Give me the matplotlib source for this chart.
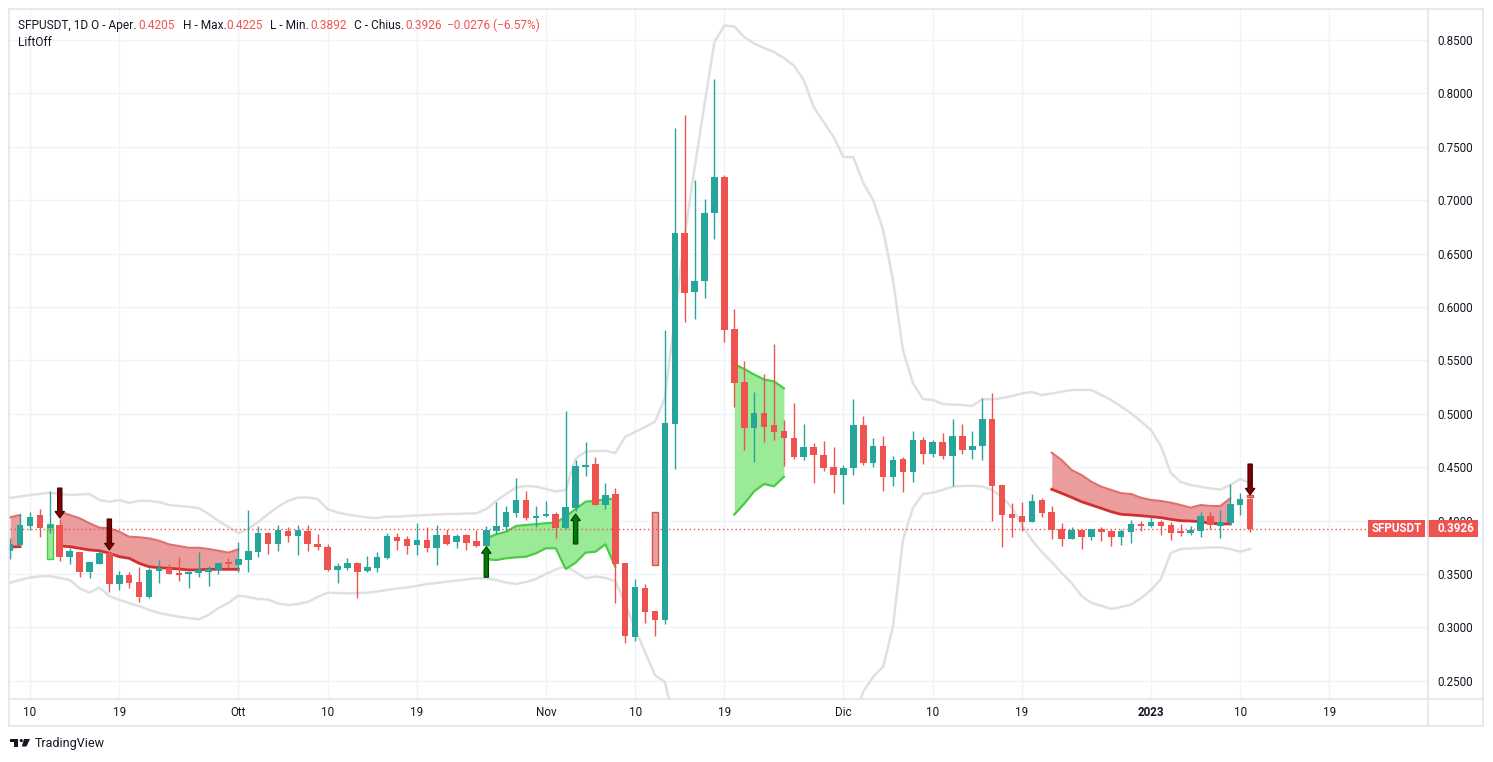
import matplotlib
matplotlib.use('Agg')
import matplotlib.pyplot as plt
import matplotlib.dates as mdates
from matplotlib.lines import Line2D
from matplotlib.patches import Rectangle, Polygon, Circle
from matplotlib.transforms import Affine2D, IdentityTransform, blended_transform_factory
import numpy as np
import pandas as pd

W, H = 1493, 762
plt.rcParams['font.family'] = ['Roboto', 'DejaVu Sans']

# daily candles SFPUSDT, 2022-09-08 .. 2023-01-11
dates = pd.date_range('2022-09-08', periods=126, freq='D')

opens = [0.3716, 0.3772, 0.3953, 0.4053, 0.3934, 0.3959, 0.3662, 0.3706, 0.3522, 0.3597,
         0.3697, 0.3410, 0.3491, 0.3426, 0.3288, 0.3532, 0.3560, 0.3513, 0.3497, 0.3513,
         0.3522, 0.3541, 0.3601, 0.3588, 0.3635, 0.3706, 0.3884, 0.3781, 0.3903, 0.3856,
         0.3903, 0.3781, 0.3756, 0.3541, 0.3560, 0.3607, 0.3532, 0.3560, 0.3653, 0.3850,
         0.3828, 0.3775, 0.3818, 0.3747, 0.3865, 0.3803, 0.3865, 0.3809, 0.3765, 0.3903,
         0.3940, 0.4074, 0.4193, 0.4028, 0.4047, 0.4062, 0.3931, 0.4118, 0.4506, 0.4530,
         0.4150, 0.4250, 0.3607, 0.2914, 0.3366, 0.3150, 0.3069, 0.4908, 0.6693, 0.6145,
         0.6242, 0.6883, 0.7216, 0.5794, 0.5296, 0.4869, 0.5006, 0.4898, 0.4841, 0.4773,
         0.4597, 0.4690, 0.4615, 0.4503, 0.4431, 0.4497, 0.4895, 0.4542, 0.4699, 0.4412,
         0.4577, 0.4459, 0.4755, 0.4627, 0.4736, 0.4605, 0.4792, 0.4665, 0.4699, 0.4952,
         0.4337, 0.4062, 0.4043, 0.3990, 0.4193, 0.4081, 0.3922, 0.3831, 0.3915, 0.3850,
         0.3925, 0.3903, 0.3850, 0.3897, 0.3968, 0.3953, 0.3987, 0.3959, 0.3893, 0.3887,
         0.3906, 0.4043, 0.3953, 0.3981, 0.4150, 0.4205]
highs = [0.3837, 0.4062, 0.4081, 0.4109, 0.4277, 0.4015, 0.3747, 0.3706, 0.3610, 0.3719,
         0.3719, 0.3529, 0.3522, 0.3569, 0.3554, 0.3631, 0.3594, 0.3662, 0.3522, 0.3706,
         0.3578, 0.3601, 0.3648, 0.3800, 0.4100, 0.3950, 0.3890, 0.3959, 0.3943, 0.3959,
         0.3959, 0.3872, 0.3781, 0.3601, 0.3648, 0.3616, 0.3669, 0.3706, 0.3881, 0.3887,
         0.3856, 0.3978, 0.3940, 0.3959, 0.3922, 0.3875, 0.3875, 0.3912, 0.3950, 0.4174,
         0.4137, 0.4399, 0.4277, 0.4137, 0.4184, 0.4084, 0.5027, 0.4568, 0.4737, 0.4593,
         0.4350, 0.4306, 0.3607, 0.3450, 0.3403, 0.3150, 0.5783, 0.7675, 0.7797, 0.7187,
         0.7012, 0.8134, 0.7238, 0.5980, 0.5493, 0.5202, 0.5371, 0.5657, 0.4945, 0.5102,
         0.4905, 0.4727, 0.4746, 0.4690, 0.4519, 0.5139, 0.4980, 0.4774, 0.4793, 0.4605,
         0.4595, 0.4840, 0.4784, 0.4755, 0.4821, 0.4952, 0.4905, 0.4840, 0.5148, 0.5195,
         0.4337, 0.4168, 0.4177, 0.4249, 0.4212, 0.4137, 0.3981, 0.3944, 0.3915, 0.3925,
         0.3944, 0.3925, 0.3925, 0.4009, 0.4000, 0.4037, 0.4009, 0.3990, 0.3968, 0.3953,
         0.4081, 0.4081, 0.4100, 0.4343, 0.4259, 0.4225]
lows = [0.3640, 0.3760, 0.3912, 0.3850, 0.3884, 0.3625, 0.3594, 0.3475, 0.3466, 0.3597,
        0.3332, 0.3354, 0.3369, 0.3241, 0.3279, 0.3419, 0.3501, 0.3435, 0.3372, 0.3475,
        0.3391, 0.3498, 0.3554, 0.3519, 0.3519, 0.3662, 0.3687, 0.3719, 0.3802, 0.3678,
        0.3719, 0.3722, 0.3532, 0.3419, 0.3538, 0.3279, 0.3516, 0.3516, 0.3638, 0.3722,
        0.3690, 0.3681, 0.3709, 0.3585, 0.3775, 0.3747, 0.3728, 0.3756, 0.3756, 0.3875,
        0.3903, 0.4037, 0.4010, 0.3944, 0.4031, 0.3834, 0.3920, 0.4090, 0.4418, 0.4150,
        0.4109, 0.3226, 0.2853, 0.2868, 0.3038, 0.2919, 0.3035, 0.4486, 0.5855, 0.5883,
        0.6087, 0.6640, 0.5675, 0.5067, 0.4665, 0.4551, 0.4740, 0.4759, 0.4514, 0.4575,
        0.4572, 0.4356, 0.4469, 0.4262, 0.4159, 0.4431, 0.4523, 0.4506, 0.4281, 0.4328,
        0.4272, 0.4366, 0.4530, 0.4599, 0.4580, 0.4328, 0.4627, 0.4581, 0.4567, 0.3999,
        0.3756, 0.3850, 0.3903, 0.3990, 0.4037, 0.3831, 0.3765, 0.3831, 0.3737, 0.3822,
        0.3812, 0.3765, 0.3775, 0.3793, 0.3906, 0.3944, 0.3869, 0.3822, 0.3853, 0.3869,
        0.3850, 0.3925, 0.3834, 0.3962, 0.4056, 0.3892]
closes = [0.3781, 0.3959, 0.4034, 0.3934, 0.3959, 0.3662, 0.3716, 0.3522, 0.3610, 0.3697,
          0.3410, 0.3491, 0.3419, 0.3288, 0.3538, 0.3560, 0.3501, 0.3494, 0.3522, 0.3541,
          0.3547, 0.3601, 0.3595, 0.3641, 0.3716, 0.3884, 0.3781, 0.3912, 0.3856, 0.3912,
          0.3781, 0.3756, 0.3538, 0.3575, 0.3601, 0.3522, 0.3569, 0.3660, 0.3856, 0.3812,
          0.3765, 0.3818, 0.3747, 0.3865, 0.3784, 0.3856, 0.3793, 0.3765, 0.3912, 0.3950,
          0.4081, 0.4193, 0.4028, 0.4037, 0.4062, 0.3931, 0.4128, 0.4512, 0.4518, 0.4150,
          0.4240, 0.3597, 0.2924, 0.3375, 0.3147, 0.3069, 0.4912, 0.6693, 0.6134, 0.6242,
          0.6879, 0.7216, 0.5787, 0.5292, 0.4869, 0.5006, 0.4880, 0.4833, 0.4773, 0.4600,
          0.4690, 0.4615, 0.4497, 0.4431, 0.4497, 0.4895, 0.4542, 0.4699, 0.4412, 0.4567,
          0.4459, 0.4755, 0.4627, 0.4736, 0.4605, 0.4792, 0.4665, 0.4699, 0.4952, 0.4328,
          0.4053, 0.4028, 0.3990, 0.4184, 0.4075, 0.3915, 0.3831, 0.3909, 0.3850, 0.3925,
          0.3897, 0.3850, 0.3903, 0.3968, 0.3953, 0.3987, 0.3953, 0.3887, 0.3887, 0.3912,
          0.4043, 0.3962, 0.3990, 0.4156, 0.4203, 0.3926]

# bollinger style bands (lower one leaves the visible range mid Nov)
upper_band = [0.4212, 0.4226, 0.4240, 0.4249, 0.4261, 0.4249, 0.4240, 0.4245, 0.4249, 0.4193,
              0.4177, 0.4193, 0.4165, 0.4186, 0.4184, 0.4174, 0.4146, 0.4137, 0.4130, 0.4118,
              0.4062, 0.3996, 0.3940, 0.3884, 0.3921, 0.3987, 0.4062, 0.4130, 0.4184, 0.4216,
              0.4216, 0.4202, 0.4109, 0.4076, 0.4057, 0.4043, 0.4029, 0.4024, 0.4037, 0.4037,
              0.4043, 0.4048, 0.4052, 0.4057, 0.4062, 0.4062, 0.4067, 0.4068, 0.4109, 0.4184,
              0.4249, 0.4310, 0.4324, 0.4318, 0.4296, 0.4273, 0.4287, 0.4580, 0.4645, 0.4652,
              0.4654, 0.4633, 0.4783, 0.4830, 0.4876, 0.4926, 0.5148, 0.5900, 0.6674, 0.7301,
              0.7901, 0.8481, 0.8636, 0.8626, 0.8528, 0.8467, 0.8425, 0.8388, 0.8331, 0.8261,
              0.8125, 0.7873, 0.7732, 0.7595, 0.7404, 0.7402, 0.7161, 0.7002, 0.6721, 0.6253,
              0.5597, 0.5288, 0.5139, 0.5129, 0.5092, 0.5087, 0.5082, 0.5073, 0.5139, 0.5134,
              0.5148, 0.5167, 0.5190, 0.5204, 0.5176, 0.5190, 0.5207, 0.5223, 0.5223, 0.5223,
              0.5176, 0.5129, 0.5068, 0.5005, 0.4928, 0.4848, 0.4699, 0.4446, 0.4361, 0.4333,
              0.4318, 0.4301, 0.4291, 0.4333, 0.4390, 0.4349]
lower_band = [0.3419, 0.3444, 0.3467, 0.3477, 0.3481, 0.3463, 0.3444, 0.3366, 0.3325, 0.3372,
              0.3294, 0.3257, 0.3228, 0.3200, 0.3163, 0.3135, 0.3116, 0.3100, 0.3088, 0.3076,
              0.3116, 0.3182, 0.3228, 0.3299, 0.3285, 0.3266, 0.3262, 0.3224, 0.3210, 0.3219,
              0.3238, 0.3285, 0.3325, 0.3322, 0.3319, 0.3322, 0.3325, 0.3336, 0.3350, 0.3364,
              0.3374, 0.3388, 0.3406, 0.3416, 0.3428, 0.3439, 0.3449, 0.3460, 0.3460, 0.3444,
              0.3420, 0.3406, 0.3425, 0.3453, 0.3500, 0.3542, 0.3575, 0.3519, 0.3460, 0.3477,
              0.3463, 0.3434, 0.3228, 0.2985, 0.2770, 0.2554, 0.2489, 0.2100, 0.1700, 0.1300,
              0.1000, 0.0700, 0.0500, 0.0500, 0.0600, 0.0700, 0.0800, 0.0900, 0.1000, 0.1100,
              0.1200, 0.1400, 0.1600, 0.1800, 0.2000, 0.2150, 0.2398, 0.2538, 0.2632, 0.3007,
              0.3818, 0.4118, 0.4249, 0.4261, 0.4287, 0.4318, 0.4324, 0.4327, 0.4319, 0.4287,
              0.4221, 0.4118, 0.3959, 0.3818, 0.3706, 0.3612, 0.3509, 0.3416, 0.3294, 0.3228,
              0.3203, 0.3172, 0.3191, 0.3214, 0.3275, 0.3350, 0.3453, 0.3697, 0.3734, 0.3739,
              0.3743, 0.3748, 0.3750, 0.3734, 0.3709, 0.3734]

# LiftOff zones: (first day, upper edge, lower edge)
red_zones = [
    ('2022-09-08', [0.4031, 0.4053], [0.3753, 0.3756]),
    ('2022-09-13', [0.4083, 0.4053, 0.4022, 0.3975, 0.3934, 0.3928, 0.3896, 0.3849, 0.3844, 0.3834,
                    0.3812, 0.3778, 0.3762, 0.3746, 0.3746, 0.3734, 0.3718, 0.3700, 0.3731],
                   [0.3762, 0.3756, 0.3741, 0.3725, 0.3718, 0.3694, 0.3662, 0.3647, 0.3600, 0.3568,
                    0.3559, 0.3553, 0.3547, 0.3538, 0.3538, 0.3544, 0.3544, 0.3544, 0.3544]),
    ('2022-12-22', [0.4636, 0.4567, 0.4474, 0.4427, 0.4364, 0.4317, 0.4287, 0.4256, 0.4249, 0.4214,
                    0.4193, 0.4184, 0.4168, 0.4146, 0.4121, 0.4146, 0.4137, 0.4137, 0.4209],
                   [0.4293, 0.4256, 0.4218, 0.4177, 0.4146, 0.4115, 0.4083, 0.4059, 0.4053, 0.4046,
                    0.4037, 0.4028, 0.4012, 0.3999, 0.3996, 0.3990, 0.3975, 0.3969, 0.3969]),
]
green_zones = [
    ('2022-10-26', [0.3834, 0.3872, 0.3896, 0.3950, 0.3959, 0.3966, 0.3975, 0.3981, 0.4037, 0.4109,
                    0.4177, 0.4186, 0.4199, 0.4205],
                   [0.3638, 0.3631, 0.3647, 0.3656, 0.3662, 0.3694, 0.3741, 0.3741, 0.3547, 0.3606,
                    0.3700, 0.3709, 0.3778, 0.3568]),
    ('2022-11-20', [0.5466, 0.5419, 0.5368, 0.5321, 0.5304, 0.5239],
                   [0.4057, 0.4158, 0.4274, 0.4343, 0.4321, 0.4410]),
]
# one-bar zones: day, top, bottom, kind
single_zones = [('2022-09-12', 0.3969, 0.3641, 'g'),
                ('2022-11-12', 0.4083, 0.3584, 'r'),
                ('2023-01-11', 0.4240, 0.4218, 'r')]
# signal arrows: day, tail, tip
down_arrows = [('2022-09-13', 0.4305, 0.4024), ('2022-09-18', 0.4015, 0.3725), ('2023-01-11', 0.4530, 0.4240)]
up_arrows = [('2022-10-26', 0.3469, 0.3756), ('2022-11-04', 0.3781, 0.4062)]

price_ticks = [0.25, 0.30, 0.35, 0.40, 0.45, 0.50, 0.55, 0.60, 0.65, 0.70, 0.75, 0.80, 0.85]
date_ticks = ['2022-09-10', '2022-09-19', '2022-10-01', '2022-10-10', '2022-10-19', '2022-11-01',
              '2022-11-10', '2022-11-19', '2022-12-01', '2022-12-10', '2022-12-19', '2023-01-01',
              '2023-01-10', '2023-01-19']
date_labels = ['10', '19', 'Ott', '10', '19', 'Nov', '10', '19', 'Dic', '10', '19', '2023', '10', '19']

UP, DN = '#26a69a', '#ef5350'
TXT = '#131722'
FRAME = '#e0e3eb'

x = mdates.date2num(dates)
O, Hh, L, C = map(np.array, (opens, highs, lows, closes))

def pos(day):
    return dates.get_loc(pd.Timestamp(day))

fig = plt.figure(figsize=(W / 100, H / 100), dpi=100)
fig.patch.set_facecolor('white')
ax = fig.add_axes([9 / W, 63 / H, 1419 / W, 690 / H])
ax.set_facecolor('white')

x0 = x[2]  # Sep 10
ax.set_xlim(x0 - 2.117, x0 + 140.93)
ax.set_ylim(0.23296, 0.87903)

for s in ax.spines.values():
    s.set_visible(False)

ax.set_xticks(mdates.date2num(pd.to_datetime(date_ticks)))
ax.set_xticklabels(date_labels)
for t in ax.get_xticklabels():
    if t.get_text() == '2023':
        t.set_fontweight('bold')
ax.tick_params(axis='x', length=0, pad=5, labelsize=8.4, labelcolor=TXT)
ax.yaxis.tick_right()
ax.set_yticks(price_ticks)
ax.set_yticklabels(['%.4f' % p for p in price_ticks])
ax.tick_params(axis='y', length=0, pad=6.5, labelsize=8.4, labelcolor=TXT)
ax.grid(True, color='#f0f3fa', lw=1)
ax.set_axisbelow(True)

# bands
ax.plot(x, upper_band, color='#e0e0e0', lw=1.8, zorder=1)
ax.plot(x, lower_band, color='#e0e0e0', lw=1.8, zorder=1)

# zones
for start, top, bot in red_zones:
    i = pos(start)
    xs = x[i:i + len(top)]
    ax.fill_between(xs, bot, top, color='#eb9c9c', lw=0, zorder=2)
    ax.plot(xs, top, color='#e07070', lw=1.5, zorder=2.1)
    ax.plot(xs, bot, color='#d32f2f', lw=2.0, zorder=2.1)
for start, top, bot in green_zones:
    i = pos(start)
    xs = x[i:i + len(top)]
    ax.fill_between(xs, bot, top, color='#9aea98', lw=0, zorder=2)
    ax.plot(xs, top, color='#4ccb45', lw=1.6, zorder=2.1)
    ax.plot(xs, bot, color='#4ccb45', lw=1.6, zorder=2.1)
for day, top, bot, kind in single_zones:
    i = pos(day)
    face, edge = ('#9aea98', '#4ccb45') if kind == 'g' else ('#eba0a0', '#d9534f')
    ax.bar(x[i], top - bot, bottom=bot, width=0.6, color=face, edgecolor=edge, lw=1, zorder=2)

# last price line
trans = blended_transform_factory(IdentityTransform(), ax.transData)
last = C[-1]
ax.plot([10, 1368], [last, last], transform=trans, color=DN, lw=1,
        linestyle=(0, (1, 2)), zorder=2.5)

# candles
colors = np.where(C >= O, UP, DN)
ax.vlines(x, L, Hh, colors=colors, lw=1, zorder=3)
body_lo = np.minimum(O, C)
body_h = np.maximum(np.abs(C - O), 0.0015)
ax.bar(x, body_h, bottom=body_lo, width=0.66, color=colors, lw=0, zorder=3.1)

# arrows
sw, hw, hl = 0.22, 0.48, 0.0062
for day, tail, tip in down_arrows:
    xc = x[pos(day)]
    pts = [(xc - sw, tail), (xc + sw, tail), (xc + sw, tip + hl), (xc + hw, tip + hl),
           (xc, tip), (xc - hw, tip + hl), (xc - sw, tip + hl)]
    ax.add_patch(Polygon(pts, closed=True, fc='#7d0000', ec='#3f0000', lw=0.8, zorder=4))
for day, tail, tip in up_arrows:
    xc = x[pos(day)]
    pts = [(xc - sw, tail), (xc + sw, tail), (xc + sw, tip - hl), (xc + hw, tip - hl),
           (xc, tip), (xc - hw, tip - hl), (xc - sw, tip - hl)]
    ax.add_patch(Polygon(pts, closed=True, fc='#007a00', ec='#003f00', lw=0.8, zorder=4))

# price tags on the scale
box_h = 0.0159
ax.add_patch(Rectangle((1368, last - box_h / 2), 57, box_h, transform=trans, fc=DN, ec='none',
                       clip_on=False, zorder=5))
ax.add_patch(Rectangle((1427, last - box_h / 2), 51, box_h, transform=trans, fc=DN, ec='none',
                       clip_on=False, zorder=5))
ax.text(1396.5, last, 'SFPUSDT', transform=trans, ha='center', va='center', color='white',
        fontsize=8.4, fontweight='bold', clip_on=False, zorder=6)
ax.text(1437, last, '%.4f' % last, transform=trans, ha='left', va='center', color='white',
        fontsize=8.4, fontweight='bold', clip_on=False, zorder=6)

# frame lines in pixel coords (top-left origin)
pix = Affine2D().scale(1, -1).translate(0, H)
def pline(x1, y1, x2, y2, c=FRAME, lw=1.1):
    fig.add_artist(Line2D([x1, x2], [y1, y2], transform=pix, color=c, lw=lw))
pline(9, 9, 1483, 9)
pline(9, 726, 1483, 726)
pline(9, 9, 9, 726)
pline(1483, 9, 1483, 726)
pline(9, 699, 1483, 699)
pline(1428, 9, 1428, 726)

# legend line
title_parts = [('SFPUSDT, 1D', 18, TXT), ('O - Aper.', 91, TXT), ('0.4205', 138.5, DN),
               ('H - Max.', 183, TXT), ('0.4225', 226.6, DN), ('L - Min.', 269.8, TXT),
               ('0.3892', 310.8, DN), ('C - Chius.', 354, TXT), ('0.3926', 405.7, DN),
               ('\u22120.0276 (\u22126.57%)', 447, DN)]
for s, xp, c in title_parts:
    fig.text(xp, 25.5, s, transform=pix, color=c, fontsize=8.6, ha='left', va='center')
fig.text(18, 42, 'LiftOff', transform=pix, color=TXT, fontsize=8.6, ha='left', va='center')

# TradingView mark
fig.add_artist(Rectangle((10, 739), 8, 3, transform=pix, fc=TXT, ec='none'))
fig.add_artist(Rectangle((14, 739), 4, 7.5, transform=pix, fc=TXT, ec='none'))
fig.add_artist(Circle((21.3, 740.6), 1.6, transform=pix, fc=TXT, ec='none'))
fig.add_artist(Polygon([(24, 739), (30, 739), (26.5, 746.5), (21.8, 746.5)], closed=True,
                       transform=pix, fc=TXT, ec='none'))
fig.text(35, 744, 'TradingView', transform=pix, color=TXT, fontsize=9, ha='left', va='center')

fig.savefig('out.png', dpi=100)
